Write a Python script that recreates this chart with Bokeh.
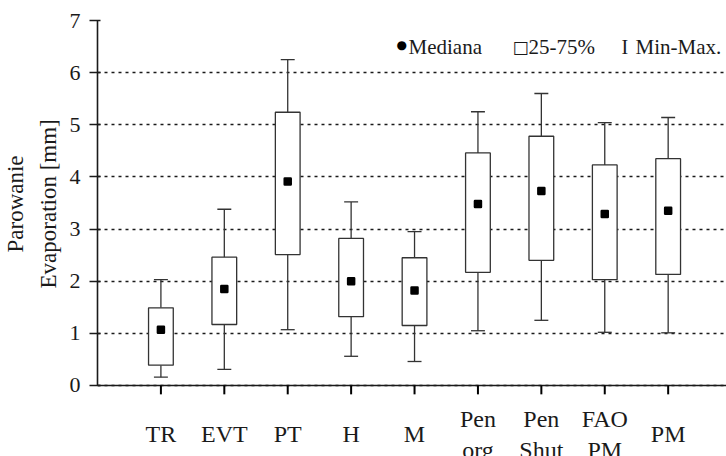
from bokeh.plotting import figure
from bokeh.models import FixedTicker, Range1d, Label, Title
from bokeh.core.properties import value
from bokeh.embed import file_html
from bokeh.resources import INLINE

# ---- data ----
categories = ["TR", "EVT", "PT", "H", "M", "Pen\norg", "Pen\nShut", "FAO\nPM", "PM"]
positions = [1, 2, 3, 4, 5, 6, 7, 8, 9]
mins = [0.16, 0.31, 1.07, 0.56, 0.46, 1.05, 1.25, 1.02, 1.01]
q1 = [0.39, 1.17, 2.51, 1.32, 1.15, 2.17, 2.40, 2.03, 2.13]
medians = [1.07, 1.85, 3.91, 2.00, 1.82, 3.48, 3.73, 3.29, 3.35]
q3 = [1.49, 2.46, 5.24, 2.82, 2.45, 4.46, 4.78, 4.23, 4.35]
maxs = [2.03, 3.38, 6.25, 3.52, 2.95, 5.25, 5.60, 5.04, 5.14]
y_ticks = [0, 1, 2, 3, 4, 5, 6, 7]
y_title_lines = ["Parowanie", "Evaporation [mm]"]

FONT = "Liberation Serif"
INK = "#1a1a1a"

BOX_W = 0.39
CAP_W = 0.22
Y_MIN_VIEW = -1.362      # room under the zero line for the category names
LABEL_Y = -0.94          # centre of the category names (data units)
TICK_DROP = -0.17        # length of the x tick marks below zero (data units)

p = figure(width=726, height=456, output_backend="svg", toolbar_location=None,
           x_range=Range1d(0, 9.92), y_range=Range1d(Y_MIN_VIEW, 7),
           min_border_left=97, min_border_top=20, min_border_right=0,
           min_border_bottom=0)
p.outline_line_color = None
p.background_fill_color = "white"
p.border_fill_color = "white"

# whiskers
p.segment(positions, mins, positions, q1, line_color="#333333", line_width=1.3)
p.segment(positions, q3, positions, maxs, line_color="#333333", line_width=1.3)
lo = [x - CAP_W / 2 for x in positions]
hi = [x + CAP_W / 2 for x in positions]
p.segment(lo, maxs, hi, maxs, line_color="#333333", line_width=1.3)
p.segment(lo, mins, hi, mins, line_color="#333333", line_width=1.3)

# boxes
p.vbar(x=positions, width=BOX_W, bottom=q1, top=q3, fill_color="white",
       line_color="#333333", line_width=1.3)

# medians
p.scatter(positions, medians, marker="square", size=6, fill_color="black",
          line_color="black", line_width=2.5, line_join="round")

# x tick marks below the zero line (drawn above the axis layer)
ticks_r = p.segment(positions, [0] * len(positions), positions,
                    [TICK_DROP] * len(positions), line_color="black", line_width=2)
ticks_r.level = "overlay"

# category names, vertically centred (one- or two-line)
p.text(x=positions, y=[LABEL_Y] * len(positions), text=categories,
       text_font=value(FONT), text_font_size="24px", text_color=INK,
       text_align="center", text_baseline="middle")

# axes
p.xaxis.fixed_location = 0
p.xaxis.ticker = FixedTicker(ticks=positions)
p.xaxis.major_label_overrides = {x: "" for x in positions}
p.xaxis.major_label_text_font_size = "0px"
p.yaxis.ticker = FixedTicker(ticks=y_ticks)
p.yaxis.bounds = (0, 7)
p.xaxis.minor_tick_line_color = None
p.yaxis.minor_tick_line_color = None
for ax in (p.xaxis, p.yaxis):
    ax.axis_line_color = INK
    ax.axis_line_width = 1.6
    ax.major_tick_line_color = INK
    ax.major_tick_line_width = 1.4
    ax.major_label_text_font = FONT
    ax.major_label_text_color = INK
p.xaxis.major_tick_out = 0
p.xaxis.major_tick_in = 0
p.yaxis.major_tick_out = 8
p.yaxis.major_tick_in = 3
p.yaxis.major_label_text_font_size = "22px"
p.yaxis.major_label_standoff = 9

# y-axis title in two lines, each centred on the 0-7 span
# (align="left" starts the rotated text "offset" px above the panel bottom)
p.add_layout(Title(text=y_title_lines[1], align="left", offset=168,
                   text_font=FONT, text_font_size="23px",
                   text_font_style="normal", text_color=INK, standoff=12), "left")
p.add_layout(Title(text=y_title_lines[0], align="left", offset=204,
                   text_font=FONT, text_font_size="23px",
                   text_font_style="normal", text_color=INK, standoff=0), "left")

p.xgrid.grid_line_color = None
p.ygrid.grid_line_color = INK
p.ygrid.grid_line_dash = "3 4"
p.ygrid.grid_line_width = 1.4

# legend (drawn as labels in screen units)
leg_y = 410
p.add_layout(Label(x=299, y=leg_y + 2, x_units="screen", y_units="screen",
                   text="●", text_font="DejaVu Sans", text_font_size="12px",
                   text_color="black", text_baseline="alphabetic"))
p.add_layout(Label(x=311, y=leg_y, x_units="screen", y_units="screen",
                   text="Mediana", text_font=FONT, text_font_size="21px",
                   text_color=INK, text_baseline="alphabetic"))
p.add_layout(Label(x=415, y=leg_y, x_units="screen", y_units="screen",
                   text="□", text_font="DejaVu Sans", text_font_size="17px",
                   text_color=INK, text_baseline="alphabetic"))
p.add_layout(Label(x=431, y=leg_y, x_units="screen", y_units="screen",
                   text="25-75%", text_font=FONT, text_font_size="21px",
                   text_color=INK, text_baseline="alphabetic"))
p.add_layout(Label(x=524, y=leg_y, x_units="screen", y_units="screen",
                   text="I", text_font=FONT, text_font_size="20px",
                   text_color=INK, text_baseline="alphabetic"))
p.add_layout(Label(x=538, y=leg_y, x_units="screen", y_units="screen",
                   text="Min-Max.", text_font=FONT, text_font_size="21px",
                   text_color=INK, text_baseline="alphabetic"))

open("out.html", "w").write(file_html(p, INLINE))
